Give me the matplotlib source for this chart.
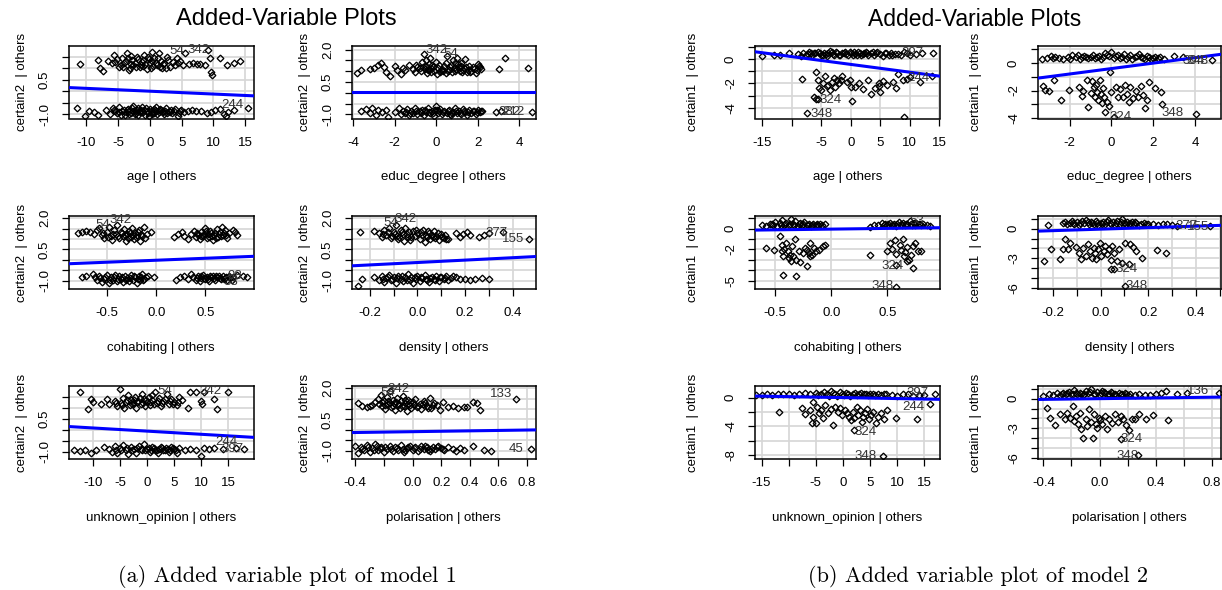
import numpy as np
import matplotlib
matplotlib.use('Agg')
import matplotlib.pyplot as plt

plt.rcParams['font.family'] = ['Liberation Sans', 'DejaVu Sans']

W, H = 1222, 590

# ---------------- model 1 : certain2 ----------------
m1_age_pts = [(-10.9,1.18),(-8.1,1.35),(-7.8,0.99),(-7.4,0.89),(-6.6,1.33),(-5.7,1.57),(-5.4,1.28),(-4.9,1.06),
    (-4.6,1.15),(-4.4,1.43),(-4.0,1.21),(-3.8,1.30),(-3.6,1.65),(-3.3,0.92),(-3.0,1.20),(-2.8,1.35),(-2.6,1.14),
    (-2.2,1.05),(-2.0,1.50),(-1.6,1.06),(-1.2,1.28),(-1.0,1.35),(-0.9,1.57),(-0.5,0.95),(-0.3,1.50),(0.0,1.21),
    (0.3,1.72),(0.5,1.10),(0.7,1.43),(0.9,1.25),(1.1,1.14),(1.5,1.65),(1.8,1.30),(1.9,0.99),(2.3,1.24),(2.5,1.00),
    (2.7,1.50),(3.2,1.06),(3.6,1.28),(4.2,1.43),(4.8,1.33),(5.2,1.14),(5.6,1.65),(6.1,1.18),(6.8,1.21),(7.4,1.17),
    (7.9,1.18),(8.6,1.14),(9.2,1.79),(9.5,1.43),(9.6,0.85),(9.7,0.70),(11.1,1.43),(12.1,1.14),(13.2,1.21),(14.1,1.33),
    (-5.9,1.25),(-5.1,1.40),(-4.2,1.05),(-3.4,1.45),(-2.4,1.25),(-1.8,1.40),(-1.4,1.15),(-0.7,1.20),(-0.1,1.40),
    (0.4,1.30),(1.3,1.45),(2.0,1.20),(2.9,1.35),(3.9,1.15),(4.5,1.25),(-3.1,1.02),(-1.1,1.08),(1.6,1.05),(0.2,1.00),
    (-2.9,1.55),
    (-11.5,-0.75),(-10.2,-1.10),(-9.5,-0.85),(-8.8,-0.90),(-8.2,-1.05),(-6.9,-0.80),(-6.3,-1.00),(-5.8,-0.75),
    (-5.5,-0.88),(-5.2,-0.95),(-4.8,-0.70),(-4.5,-1.02),(-4.3,-0.85),(-3.9,-1.05),(-3.7,-0.92),(-3.5,-0.78),
    (-3.2,-0.86),(-3.0,-0.95),(-2.8,-0.74),(-2.6,-0.65),(-2.4,-1.00),(-2.2,-0.88),(-2.0,-0.80),(-1.8,-1.02),
    (-1.6,-0.92),(-1.4,-0.80),(-1.2,-0.70),(-1.0,-0.92),(-0.8,-1.05),(-0.6,-0.72),(-0.4,-0.86),(-0.2,-1.10),
    (0.0,-0.78),(0.2,-0.85),(0.4,-1.00),(0.6,-0.95),(0.8,-0.82),(1.0,-0.70),(1.2,-0.98),(1.4,-0.90),(1.6,-0.76),
    (1.8,-0.80),(2.0,-0.92),(2.2,-1.00),(2.4,-0.85),(2.6,-0.75),(3.0,-0.88),(3.3,-0.80),(3.5,-0.95),(4.0,-0.78),
    (4.4,-1.08),(4.7,-0.86),(4.9,-0.82),(5.4,-0.90),(6.0,-0.85),(6.6,-0.80),(7.3,-0.88),(8.0,-0.85),(9.0,-0.95),
    (9.6,-0.90),(10.3,-0.82),(11.0,-0.78),(11.6,-1.00),(12.0,-1.10),(12.3,-0.90),(13.3,-0.80),(15.5,-0.75),
    (-5.6,-0.82),(-4.9,-0.90),(-4.1,-0.80),(-3.3,-1.00),(-2.7,-0.85),(-2.1,-0.95),(-1.5,-0.86),(-0.9,-0.80),
    (-0.3,-0.95),(0.3,-0.90),(0.9,-0.88),(1.5,-0.82),(2.1,-0.86),(2.7,-0.95),(3.2,-0.92),(3.8,-0.86),(4.6,-0.95),
    (-1.9,-0.72),(0.7,-0.76),(-3.6,-0.84)]
m1_age_ids = [("54", 4.2, 1.74), ("342", 7.7, 1.79), ("244", 13.0, -0.58)]

m1_educ_pts = [(-3.8,0.90),(-3.6,1.05),(-3.2,1.10),(-3.0,1.15),(-2.8,1.30),(-2.65,1.40),(-2.5,1.20),(-2.4,0.95),
    (-2.2,0.80),(-2.0,1.25),(-1.9,1.05),(-1.7,0.85),(-1.6,1.15),(-1.5,1.05),(-1.3,1.30),(-1.1,1.10),(-1.0,0.95),
    (-0.9,1.20),(-0.8,1.15),(-0.75,1.00),(-0.7,1.45),(-0.6,1.80),(-0.55,1.10),(-0.5,1.25),(-0.45,0.90),(-0.4,1.05),
    (-0.35,1.35),(-0.3,1.60),(-0.25,1.15),(-0.2,1.30),(-0.1,1.00),(0.0,1.45),(0.05,0.85),(0.1,1.15),(0.2,0.95),
    (0.25,1.05),(0.3,1.10),(0.4,1.25),(0.45,0.90),(0.5,1.70),(0.55,1.00),(0.6,1.05),(0.7,1.30),(0.75,0.95),
    (0.8,1.50),(0.85,1.15),(0.9,1.00),(1.0,1.60),(1.05,1.35),(1.1,1.20),(1.2,1.40),(1.25,0.95),(1.3,1.05),
    (1.4,1.55),(1.45,1.20),(1.5,0.95),(1.6,1.25),(1.7,1.00),(1.8,1.10),(1.9,0.90),(2.0,1.35),(2.05,1.25),
    (2.1,1.20),(3.0,1.10),(3.3,1.60),(4.4,1.15),
    (-0.95,1.30),(-0.65,1.20),(-0.35,1.05),(-0.15,1.20),(0.15,1.30),(0.35,1.00),(0.65,1.20),(0.95,1.10),
    (1.15,1.00),(1.35,1.15),(1.55,1.05),(1.75,1.20),(1.95,1.05),(0.45,1.40),(-0.5,1.50),(0.9,1.40),(1.2,1.25),
    (-0.25,0.95),(1.65,0.98),(2.15,1.10),
    (-3.6,-0.85),(-3.4,-0.75),(-3.2,-0.95),(-3.1,-0.70),(-2.9,-1.05),(-2.8,-0.80),(-2.6,-0.90),(-2.4,-0.78),
    (-2.3,-1.10),(-2.0,-0.88),(-1.8,-0.72),(-1.7,-1.00),(-1.6,-0.85),(-1.5,-0.95),(-1.4,-0.75),(-1.3,-1.05),
    (-1.2,-0.82),(-1.1,-0.92),(-1.0,-0.70),(-0.9,-0.98),(-0.8,-0.85),(-0.7,-0.78),(-0.6,-1.02),(-0.5,-0.90),
    (-0.4,-0.72),(-0.3,-0.95),(-0.2,-0.85),(-0.1,-1.08),(0.0,-0.60),(0.05,-0.80),(0.1,-0.92),(0.2,-0.75),
    (0.3,-1.00),(0.4,-0.85),(0.5,-0.95),(0.6,-0.78),(0.7,-1.05),(0.8,-0.88),(0.9,-0.72),(1.0,-0.95),(1.1,-0.82),
    (1.2,-1.00),(1.3,-0.76),(1.4,-0.90),(1.5,-1.05),(1.6,-0.80),(1.7,-0.92),(1.8,-0.85),(1.9,-1.00),(2.0,-0.78),
    (2.1,-0.90),(2.2,-0.85),(2.9,-0.88),(3.1,-0.85),(4.6,-0.88),
    (-1.45,-0.88),(-1.25,-0.92),(-0.95,-0.82),(-0.75,-0.95),(-0.55,-0.80),(-0.35,-0.88),(-0.15,-0.95),
    (0.15,-0.85),(0.35,-0.90),(0.55,-0.82),(0.75,-0.92),(0.95,-0.86),(1.15,-0.95),(1.35,-0.84),(1.55,-0.90),
    (1.75,-0.82),(1.95,-0.90),(2.15,-0.82),(-0.05,-0.78),(0.65,-1.00)]
m1_educ_ids = [("342", 0.0, 1.98), ("54", 0.7, 1.78), ("382", 3.55, -0.88), ("212", 3.7, -0.88)]

m1_cohab_pts = [(-0.80,1.30),(-0.76,1.35),(-0.72,1.40),(-0.68,1.35),(-0.64,1.25),(-0.60,1.45),(-0.58,1.55),
    (-0.55,1.20),(-0.53,1.05),(-0.50,1.35),(-0.48,1.60),(-0.46,1.15),(-0.45,0.95),(-0.43,1.45),(-0.41,1.25),
    (-0.40,1.70),(-0.38,1.05),(-0.36,1.35),(-0.34,1.15),(-0.33,1.50),(-0.31,0.90),(-0.30,1.25),(-0.28,1.40),
    (-0.26,1.10),(-0.25,1.55),(-0.23,1.00),(-0.22,1.30),(-0.20,1.20),(-0.18,1.45),(-0.17,0.90),(-0.15,1.15),
    (-0.13,1.60),(-0.12,1.05),(-0.10,1.25),(-0.05,1.35),
    (-0.54,1.30),(-0.49,1.10),(-0.44,1.25),(-0.39,1.15),(-0.35,1.30),(-0.32,1.20),(-0.29,1.05),(-0.27,1.30),
    (-0.24,1.20),(-0.21,1.10),(-0.19,1.35),(-0.16,1.25),
    (0.18,1.10),(0.22,1.25),(0.26,1.35),(0.28,1.15),(0.32,1.00),(0.35,1.25),(0.38,1.40),(0.40,1.10),(0.42,1.20),
    (0.44,1.00),(0.46,1.35),(0.48,1.15),(0.50,1.55),(0.52,1.05),(0.53,1.25),(0.55,1.40),(0.57,1.15),(0.58,0.95),
    (0.60,1.30),(0.62,1.50),(0.63,1.10),(0.65,1.35),(0.67,1.60),(0.68,1.20),(0.70,1.45),(0.72,1.05),(0.74,1.30),
    (0.78,1.45),(0.80,1.35),(0.82,1.20),
    (0.41,1.30),(0.45,1.15),(0.49,1.25),(0.51,1.40),(0.54,1.10),(0.56,1.30),(0.59,1.20),(0.61,1.05),(0.64,1.25),
    (0.66,1.15),(0.69,1.30),(0.71,1.20),
    (-0.76,-0.82),(-0.72,-0.80),(-0.65,-0.70),(-0.62,-0.85),(-0.60,-0.95),(-0.58,-0.78),(-0.55,-1.05),
    (-0.53,-0.90),(-0.50,-0.75),(-0.48,-1.10),(-0.46,-0.85),(-0.44,-0.95),(-0.42,-0.72),(-0.40,-1.00),
    (-0.38,-0.80),(-0.36,-0.92),(-0.34,-1.08),(-0.32,-0.78),(-0.30,-0.88),(-0.28,-1.00),(-0.26,-0.75),
    (-0.24,-0.95),(-0.22,-0.85),(-0.20,-1.12),(-0.18,-0.80),(-0.17,-0.95),(-0.15,-0.70),(-0.13,-0.90),
    (-0.11,-0.82),(-0.08,-0.78),(-0.02,-0.85),
    (-0.57,-0.88),(-0.52,-0.82),(-0.47,-0.95),(-0.43,-0.85),(-0.39,-0.90),(-0.35,-0.82),(-0.31,-0.95),
    (-0.27,-0.86),(-0.23,-0.80),(-0.19,-0.90),(-0.16,-0.85),(-0.14,-0.97),
    (0.20,-0.95),(0.24,-0.85),(0.28,-0.80),(0.32,-0.92),(0.35,-0.70),(0.37,-0.85),(0.40,-0.95),(0.42,-0.80),
    (0.44,-1.02),(0.46,-0.88),(0.48,-0.75),(0.50,-0.92),(0.52,-0.82),(0.54,-1.00),(0.56,-0.85),(0.58,-0.78),
    (0.60,-0.95),(0.62,-0.85),(0.64,-0.80),(0.66,-0.92),(0.68,-0.78),(0.70,-0.88),(0.72,-0.95),(0.74,-0.80),
    (0.78,-0.85),(0.82,-0.75),(0.88,-0.80),(0.92,-0.82),
    (0.41,-0.88),(0.45,-0.80),(0.49,-0.86),(0.53,-0.92),(0.55,-0.78),(0.59,-0.88),(0.61,-0.80),(0.65,-0.86),
    (0.69,-0.92),(0.71,-0.82),(0.75,-0.88),(0.77,-0.95)]
m1_cohab_ids = [("54", -0.55, 1.70), ("342", -0.36, 1.92), ("98", 0.80, -0.76), ("33", 0.76, -1.05)]

m1_dens_pts = [(-0.24,1.35),(-0.18,1.40),(-0.16,1.30),(-0.15,1.10),(-0.14,1.45),(-0.13,1.20),(-0.12,1.55),
    (-0.11,1.05),(-0.10,1.35),(-0.09,1.70),(-0.085,1.15),(-0.08,1.00),(-0.07,1.45),(-0.06,1.25),(-0.055,0.90),
    (-0.05,1.55),(-0.04,1.10),(-0.035,1.35),(-0.03,0.95),(-0.02,1.40),(-0.01,1.15),(0.0,1.30),(0.01,1.00),
    (0.02,1.20),(0.025,1.45),(0.03,0.85),(0.04,1.10),(0.05,1.30),(0.055,1.00),(0.06,1.20),(0.07,1.40),
    (0.075,1.05),(0.08,1.15),(0.09,0.95),(0.10,1.25),(0.11,1.05),(0.12,1.00),(0.13,1.00),(0.16,1.30),
    (0.18,1.10),(0.19,1.25),(0.21,1.35),(0.22,1.20),(0.26,1.10),(0.28,1.20),(0.30,1.30),(0.36,1.35),(0.47,1.00),
    (-0.145,1.25),(-0.125,1.35),(-0.105,1.15),(-0.095,1.25),(-0.075,1.10),(-0.065,1.35),(-0.045,1.25),
    (-0.025,1.10),(-0.005,1.45),(0.015,1.35),(0.035,1.20),(0.045,1.40),(0.065,1.10),(0.085,1.30),(0.105,1.10),
    (0.115,1.20),
    (-0.25,-1.25),(-0.23,-0.90),(-0.18,-0.85),(-0.16,-0.95),(-0.15,-0.80),(-0.14,-1.05),(-0.13,-0.88),
    (-0.12,-0.75),(-0.11,-0.98),(-0.10,-0.85),(-0.09,-1.10),(-0.08,-0.78),(-0.07,-0.92),(-0.06,-1.02),
    (-0.05,-0.82),(-0.04,-0.70),(-0.03,-0.95),(-0.02,-1.12),(-0.01,-0.85),(0.0,-0.78),(0.01,-1.00),(0.02,-0.88),
    (0.03,-0.75),(0.04,-0.95),(0.05,-1.05),(0.06,-0.82),(0.07,-0.90),(0.08,-0.78),(0.09,-1.00),(0.10,-0.85),
    (0.11,-0.92),(0.12,-0.80),(0.14,-0.88),(0.16,-0.85),(0.18,-0.90),(0.20,-0.92),(0.22,-0.95),(0.24,-0.92),
    (0.27,-0.88),(0.30,-0.92),
    (-0.145,-0.92),(-0.125,-0.82),(-0.105,-0.92),(-0.085,-0.86),(-0.065,-0.80),(-0.045,-0.95),(-0.025,-0.82),
    (-0.005,-0.92),(0.015,-0.84),(0.035,-0.92),(0.055,-0.86),(0.075,-0.95),(0.095,-0.82),(0.115,-0.88),
    (0.13,-0.95),(0.15,-0.80)]
m1_dens_ids = [("54", -0.11, 1.75), ("342", -0.05, 1.95), ("377", 0.33, 1.30), ("155", 0.40, 1.00)]

m1_unkn_pts = [(-12.5,1.70),(-11.0,0.95),(-10.5,1.40),(-10.0,1.25),(-8.5,1.15),(-7.5,1.40),(-7.0,1.15),(-6.0,1.30),
    (-5.5,1.05),(-5.0,1.85),(-4.8,1.20),(-4.5,1.45),(-4.2,1.00),(-4.0,1.25),(-3.5,1.55),(-3.2,1.10),(-3.0,1.35),
    (-2.6,1.20),(-2.2,1.50),(-2.0,1.00),(-1.6,1.30),(-1.2,1.15),(-1.0,1.60),(-0.6,1.40),(-0.4,1.05),(0.0,1.25),
    (0.3,1.50),(0.6,1.10),(1.0,1.35),(1.4,1.70),(1.8,1.20),(2.2,1.45),(2.6,1.05),(3.0,1.30),(3.6,1.60),(4.0,1.15),
    (4.5,1.40),(5.0,1.25),(5.5,1.10),(6.0,1.50),(6.5,1.35),(7.5,1.00),(8.0,1.70),(9.0,1.70),(10.0,1.30),
    (10.2,1.15),(10.5,1.70),(12.5,1.40),(13.0,0.95),(15.0,1.70),
    (-5.8,1.20),(-4.6,1.10),(-3.8,1.35),(-2.8,1.15),(-1.9,1.25),(-1.3,1.45),(-0.8,1.20),(-0.2,1.35),(0.5,1.25),
    (1.2,1.15),(2.0,1.30),(2.8,1.20),(3.4,1.40),(4.2,1.30),(4.8,1.15),(5.8,1.25),(-2.4,1.35),(0.9,1.55),
    (-13.5,-0.95),(-12.5,-0.98),(-11.5,-0.95),(-10.5,-1.05),(-9.5,-0.92),(-8.0,-0.80),(-7.0,-0.90),(-6.5,-1.00),
    (-6.0,-0.75),(-5.5,-1.05),(-5.0,-0.85),(-4.5,-0.70),(-4.0,-0.95),(-3.5,-1.10),(-3.0,-0.80),(-2.5,-0.90),
    (-2.0,-1.05),(-1.5,-0.75),(-1.0,-0.95),(-0.5,-0.65),(0.0,-0.88),(0.5,-1.00),(1.0,-0.80),(1.5,-0.92),
    (2.0,-1.08),(2.5,-0.78),(3.0,-0.95),(3.5,-0.85),(4.0,-1.02),(4.5,-0.80),(5.0,-0.90),(5.5,-1.05),(6.0,-0.85),
    (7.0,-0.95),(8.0,-0.88),(9.0,-0.92),(10.0,-1.20),(10.5,-0.85),(11.5,-0.90),(12.5,-0.85),(14.0,-0.90),
    (16.5,-0.85),(18.0,-0.88),
    (-5.8,-0.92),(-4.8,-0.95),(-3.8,-0.85),(-2.8,-0.95),(-1.8,-0.85),(-1.2,-0.90),(-0.3,-0.92),(0.3,-0.82),
    (0.8,-0.92),(1.3,-0.85),(1.8,-0.95),(2.3,-0.88),(2.8,-0.82),(3.3,-0.92),(3.8,-0.88),(4.3,-0.95),(4.8,-0.85),
    (5.3,-0.92)]
m1_unkn_ids = [("54", 3.2, 1.75), ("342", 11.7, 1.75), ("244", 14.7, -0.58), ("397", 15.8, -0.90)]

m1_pol_pts = [(-0.38,1.30),(-0.35,1.15),(-0.32,1.10),(-0.30,1.15),(-0.28,1.20),(-0.26,1.35),(-0.24,1.50),
    (-0.22,1.70),(-0.21,1.15),(-0.20,1.40),(-0.19,1.00),(-0.18,1.60),(-0.17,1.25),(-0.16,1.85),(-0.15,1.10),
    (-0.14,1.45),(-0.13,1.30),(-0.12,0.95),(-0.11,1.55),(-0.10,1.20),(-0.09,1.05),(-0.08,1.40),(-0.07,1.65),
    (-0.06,1.15),(-0.05,1.30),(-0.04,0.90),(-0.03,1.45),(-0.02,1.20),(-0.01,1.05),(0.0,1.35),(0.02,1.50),
    (0.03,1.10),(0.05,1.25),(0.06,1.00),(0.08,1.40),(0.10,1.15),(0.12,1.55),(0.13,1.05),(0.15,1.30),(0.17,1.20),
    (0.19,0.95),(0.21,1.35),(0.25,1.10),(0.28,1.15),(0.32,1.05),(0.36,1.10),(0.38,1.10),(0.42,1.35),(0.45,1.30),
    (0.47,0.95),(0.72,1.50),
    (-0.235,1.25),(-0.215,1.35),(-0.195,1.20),(-0.175,1.40),(-0.155,1.30),(-0.135,1.15),(-0.115,1.35),
    (-0.095,1.25),(-0.075,1.15),(-0.055,1.45),(-0.035,1.25),(-0.015,1.35),(0.01,1.20),(0.04,1.15),(0.07,1.25),
    (0.09,1.30),(0.11,1.05),(0.14,1.20),
    (-0.40,-0.80),(-0.38,-1.10),(-0.36,-0.85),(-0.34,-0.95),(-0.32,-0.75),(-0.30,-1.05),(-0.28,-0.88),
    (-0.26,-0.70),(-0.24,-0.98),(-0.22,-0.82),(-0.20,-1.05),(-0.18,-0.90),(-0.16,-0.78),(-0.14,-1.00),
    (-0.12,-0.85),(-0.10,-0.95),(-0.08,-0.72),(-0.06,-1.08),(-0.04,-0.88),(-0.02,-0.80),(0.0,-0.95),(0.02,-0.85),
    (0.04,-1.02),(0.06,-0.78),(0.08,-0.92),(0.10,-0.85),(0.12,-1.00),(0.14,-0.82),(0.16,-0.90),(0.18,-0.78),
    (0.20,-0.88),(0.22,-0.95),(0.25,-0.85),(0.28,-0.92),(0.30,-1.00),(0.33,-0.88),(0.36,-0.95),(0.42,-0.80),
    (0.50,-0.95),(0.55,-1.00),(0.83,-0.90),
    (-0.35,-0.92),(-0.31,-0.85),(-0.27,-0.95),(-0.23,-0.88),(-0.19,-0.82),(-0.15,-0.92),(-0.11,-0.86),
    (-0.07,-0.92),(-0.03,-0.85),(0.01,-0.88),(0.05,-0.92),(0.09,-0.80),(0.13,-0.90),(0.17,-0.85),(0.21,-0.92),
    (-0.25,-0.80),(-0.05,-0.98),(0.11,-0.95)]
m1_pol_ids = [("54", -0.17, 1.75), ("342", -0.10, 1.95), ("133", 0.62, 1.72), ("45", 0.72, -0.92)]

# fitted lines (intercept, slope)
m1_fits = [(0.0, -0.0124), (0.05, 0.0), (-0.02, 0.19), (-0.13, 0.58), (-0.07, -0.0143), (-0.09, 0.10)]

# ---------------- model 2 : certain1 ----------------
m2_age_pts = [(-15.0,0.27),(-13.0,0.35),(-12.0,0.30),(-10.5,0.45),(-9.0,0.40),(-8.5,0.25),(-8.0,0.50),(-7.5,0.35),
    (-7.0,0.55),(-6.5,0.30),(-6.2,0.50),(-6.0,0.45),(-5.5,0.60),(-5.0,0.35),(-4.5,0.50),(-4.2,0.40),(-4.0,0.25),
    (-3.5,0.65),(-3.2,0.55),(-3.0,0.40),(-2.8,0.30),(-2.5,0.55),(-2.0,0.30),(-1.5,0.50),(-1.2,0.45),(-1.0,0.60),
    (-0.5,0.35),(-0.2,0.60),(0.0,0.45),(0.5,0.55),(0.8,0.40),(1.0,0.30),(1.5,0.50),(1.8,0.30),(2.0,0.40),
    (2.2,0.50),(2.5,0.60),(3.0,0.35),(3.5,0.45),(3.8,0.55),(4.0,0.30),(4.5,0.55),(5.0,0.40),(5.5,0.25),(6.0,0.45),
    (6.5,0.35),(7.0,0.30),(7.5,0.40),(8.5,0.35),(9.0,0.55),(9.5,0.45),(10.0,0.30),(11.0,0.40),(12.0,0.50),
    (14.0,0.45),(-5.2,0.45),(-4.7,0.30),(-3.8,0.50),(-2.3,0.45),(-1.8,0.35),(-0.8,0.40),(0.3,0.35),(1.2,0.55),
    (2.8,0.45),(4.2,0.45),(5.8,0.50),(6.8,0.45),(8.0,0.40),(-7.2,0.40),(-6.8,0.45),
    (-8.3,-1.68),(-5.8,-1.03),(-5.6,-1.76),(-5.3,-2.35),(-5.1,-2.57),(-4.7,-1.97),(-4.4,-1.43),(-4.1,-2.24),
    (-3.8,-2.16),(-3.5,-2.51),(-3.2,-1.89),(-2.9,-1.54),(-2.6,-2.30),(-2.3,-1.70),(-2.0,-2.00),(-1.7,-1.76),
    (-1.4,-1.43),(-0.7,-1.89),(-0.2,-1.70),(0.0,-2.30),(0.2,-3.40),(0.8,-2.30),(1.4,-2.00),(2.0,-2.43),
    (2.9,-1.76),(3.5,-2.90),(4.1,-2.35),(4.7,-1.97),(4.8,-2.24),(5.0,-2.70),(5.4,-1.84),(6.2,-2.16),(7.1,-1.89),
    (7.7,-2.35),(8.0,-1.27),(8.9,-1.76),(9.5,-1.62),(10.1,-1.49),(11.8,-1.89),(13.8,-1.43),(9.0,-4.73),
    (-6.2,-3.10),(-5.9,-3.24),(-5.6,-3.30),(-7.4,-4.40)]
m2_age_ids = [("324", -3.4, -3.35), ("348", -5.0, -4.50), ("244", 11.4, -1.55), ("397", 10.5, 0.45)]

m2_educ_pts = [(-3.3,0.30),(-3.1,0.35),(-2.9,0.50),(-2.7,0.40),(-2.5,0.35),(-2.3,0.30),(-2.1,0.45),(-2.0,0.25),
    (-1.9,0.55),(-1.7,0.40),(-1.6,0.55),(-1.5,0.30),(-1.3,0.50),(-1.1,0.35),(-0.9,0.60),(-0.7,0.45),(-0.6,0.50),
    (-0.5,0.30),(-0.3,0.70),(-0.1,0.50),(0.0,0.80),(0.1,0.35),(0.3,0.60),(0.5,0.45),(0.6,0.65),(0.7,0.30),
    (0.9,0.55),(1.0,0.30),(1.1,0.40),(1.3,0.65),(1.5,0.35),(1.7,0.50),(1.9,0.30),(2.0,0.35),(2.1,0.45),(2.3,0.40),
    (2.5,0.30),(3.0,0.50),(3.4,0.40),(4.8,0.20),(-1.0,0.45),(-0.8,0.35),(-0.4,0.40),(-0.2,0.55),(0.2,0.50),
    (0.4,0.35),(0.8,0.45),(1.2,0.50),(1.4,0.40),(1.6,0.30),(1.8,0.45),(2.2,0.35),(-1.2,0.40),(-1.4,0.45),
    (-2.8,0.35),
    (-3.27,-1.66),(-3.18,-1.95),(-3.0,-2.0),(-2.75,-1.22),(-2.43,-2.68),(-2.05,-1.95),(-1.53,-1.76),(-1.36,-2.0),
    (-1.4,-2.39),(-1.18,-1.22),(-1.1,-3.17),(-1.0,-2.15),(-0.92,-1.34),(-0.83,-1.76),(-0.8,-2.44),(-0.75,-1.59),
    (-0.7,-2.07),(-0.63,-2.68),(-0.57,-1.22),(-0.52,-2.24),(-0.45,-2.93),(-0.4,-1.83),(-0.35,-2.49),(-0.31,-3.54),
    (-0.23,-2.8),(-0.14,-3.12),(-0.05,-0.68),(0.0,-2.07),(0.12,-3.9),(0.21,-1.76),(0.3,-2.49),(0.42,-1.9),
    (0.56,-2.44),(0.64,-1.59),(0.73,-2.24),(0.82,-2.8),(0.9,-1.76),(1.04,-2.56),(1.17,-2.0),(1.25,-2.44),
    (1.39,-1.66),(1.51,-2.32),(1.6,-3.29),(1.69,-2.68),(1.81,-1.41),(2.09,-1.83),(2.38,-2.07),(2.43,-2.98),
    (4.03,-3.66)]
m2_educ_ids = [("324", 0.45, -3.92), ("348", 2.9, -3.6), ("304", 3.9, 0.10), ("348", 4.1, 0.10)]

m2_cohab_pts = [(-0.62,0.35),(-0.58,0.30),(-0.55,0.50),(-0.52,0.40),(-0.50,0.65),(-0.48,0.30),(-0.46,0.55),
    (-0.44,0.80),(-0.42,0.40),(-0.40,0.60),(-0.38,0.35),(-0.36,0.90),(-0.34,0.50),(-0.32,0.70),(-0.30,0.30),
    (-0.28,0.55),(-0.26,0.40),(-0.24,0.65),(-0.22,0.35),(-0.20,0.50),(-0.18,0.30),(-0.16,0.45),(-0.14,0.40),
    (-0.12,0.35),(-0.10,0.50),(-0.08,0.40),(-0.06,0.45),
    (-0.53,0.45),(-0.45,0.40),(-0.41,0.50),(-0.37,0.45),(-0.33,0.35),(-0.29,0.45),(-0.25,0.50),(-0.21,0.40),
    (-0.17,0.40),(-0.13,0.45),
    (0.35,0.20),(0.38,0.35),(0.42,0.40),(0.45,0.55),(0.48,0.45),(0.50,0.35),(0.52,0.60),(0.54,0.40),(0.56,0.50),
    (0.58,0.30),(0.60,0.65),(0.62,0.45),(0.64,0.55),(0.66,0.35),(0.68,0.50),(0.70,0.70),(0.72,0.40),(0.74,0.55),
    (0.76,0.60),(0.78,0.45),(0.80,0.40),(0.82,0.50),(0.85,0.35),(0.88,0.30),
    (0.47,0.35),(0.51,0.45),(0.55,0.40),(0.59,0.45),(0.63,0.35),(0.67,0.45),(0.71,0.50),(0.75,0.40),(0.79,0.50),
    (-0.58,-1.85),(-0.51,-2.01),(-0.46,-0.71),(-0.44,-1.53),(-0.44,-2.18),(-0.43,-2.66),(-0.42,-1.95),
    (-0.40,-1.36),(-0.39,-2.18),(-0.38,-2.82),(-0.37,-2.50),(-0.36,-3.15),(-0.35,-1.69),(-0.34,-2.66),
    (-0.32,-0.97),(-0.31,-2.99),(-0.29,-2.18),(-0.28,-3.25),(-0.25,-2.34),(-0.23,-1.85),(-0.22,-3.57),
    (-0.22,-2.01),(-0.20,-2.34),(-0.19,-1.36),(-0.19,-2.66),(-0.17,-2.50),(-0.15,-1.85),(-0.14,-2.18),
    (-0.11,-2.01),(-0.07,-1.69),(-0.06,-1.53),(-0.43,-4.45),(-0.31,-4.55),
    (0.35,-2.50),(0.50,-2.18),(0.52,-1.36),(0.54,-1.95),(0.57,-1.04),(0.58,-2.40),(0.61,-1.53),(0.62,-2.01),
    (0.64,-0.97),(0.65,-2.66),(0.66,-2.27),(0.68,-1.75),(0.68,-3.15),(0.69,-2.99),(0.71,-2.50),(0.73,-1.69),
    (0.73,-3.80),(0.75,-1.36),(0.77,-2.18),(0.80,-2.18),(0.58,-5.58),(0.58,-3.47)]
m2_cohab_ids = [("324", 0.55, -3.62), ("348", 0.46, -5.52), ("53", 0.76, 0.72)]

m2_dens_pts = [(-0.22,0.40),(-0.16,0.55),(-0.15,0.70),(-0.14,0.45),(-0.13,0.60),(-0.12,0.80),(-0.11,0.50),
    (-0.10,0.65),(-0.09,0.40),(-0.08,0.75),(-0.07,0.55),(-0.06,0.90),(-0.05,0.45),(-0.04,0.65),(-0.03,0.50),
    (-0.02,0.80),(-0.01,0.40),(0.0,0.60),(0.01,0.70),(0.02,0.45),(0.03,0.85),(0.04,0.55),(0.05,0.65),(0.06,0.40),
    (0.07,0.75),(0.08,0.50),(0.09,1.00),(0.10,0.55),(0.11,0.65),(0.12,0.45),(0.13,0.70),(0.14,0.50),(0.15,0.60),
    (0.16,0.40),(0.18,0.55),(0.20,0.45),(0.22,0.50),(0.24,0.40),(0.26,0.45),(0.28,0.50),(0.30,0.35),(0.32,0.30),
    (0.46,0.30),(-0.115,0.60),(-0.085,0.55),(-0.055,0.70),(-0.035,0.55),(-0.015,0.60),(0.005,0.50),(0.025,0.65),
    (0.045,0.45),(0.065,0.60),(0.085,0.65),(0.105,0.45),(0.125,0.55),(0.145,0.65),(0.17,0.50),(0.19,0.45),
    (-0.236,-3.29),(-0.21,-2.10),(-0.17,-3.12),(-0.157,-2.10),(-0.15,-1.02),(-0.137,-2.03),(-0.127,-1.42),
    (-0.104,-1.83),(-0.09,-2.44),(-0.082,-3.12),(-0.075,-1.93),(-0.063,-2.78),(-0.052,-1.59),(-0.045,-2.27),
    (-0.037,-2.95),(-0.03,-1.93),(-0.022,-2.51),(-0.018,-3.12),(-0.012,-2.10),(-0.003,-1.42),(0.003,-2.78),
    (0.012,-2.27),(0.018,-1.76),(0.027,-2.61),(0.033,-2.03),(0.042,-3.19),(0.048,-1.76),(0.057,-2.44),
    (0.067,-3.29),(0.075,-2.10),(0.09,-3.53),(0.104,-1.42),(0.122,-1.59),(0.134,-1.83),(0.149,-2.27),
    (0.172,-2.95),(0.236,-2.17),(0.276,-2.51),(0.045,-4.14),(0.057,-4.07),(0.119,-3.63),(0.104,-5.83)]
m2_dens_ids = [("324", 0.11, -4.12), ("348", 0.15, -5.85), ("377", 0.36, 0.25), ("155", 0.41, 0.15)]

m2_unkn_pts = [(-16.0,0.35),(-15.0,0.40),(-14.0,0.45),(-13.0,0.40),(-12.0,0.50),(-11.0,0.45),(-10.0,0.55),
    (-9.0,0.40),(-8.0,0.50),(-7.0,0.60),(-6.0,0.45),(-5.0,0.65),(-4.5,0.40),(-4.0,0.55),(-3.5,0.80),(-3.0,0.50),
    (-2.6,0.30),(-2.2,0.95),(-1.8,0.60),(-1.4,0.45),(-1.0,0.25),(-0.6,0.75),(-0.2,0.55),(0.2,0.40),(0.6,0.65),
    (1.0,0.50),(1.4,0.30),(1.8,0.45),(2.2,0.60),(2.6,0.40),(3.0,0.55),(3.4,0.65),(3.8,0.45),(4.2,0.50),(4.6,0.35),
    (5.0,0.45),(5.5,0.50),(6.0,0.40),(6.5,0.45),(7.0,0.35),(7.5,0.50),(8.0,0.45),(9.0,0.40),(10.0,0.30),
    (11.0,0.45),(12.0,0.50),(13.0,0.30),(14.0,0.40),(15.0,0.35),(17.0,0.55),
    (-11.7,-1.95),(-7.55,-1.49),(-6.9,-2.28),(-6.1,-1.72),(-5.77,-3.49),(-5.44,-2.74),(-4.91,-3.49),
    (-5.57,-0.56),(-4.78,-1.26),(-4.45,-2.19),(-3.99,-1.72),(-3.6,-2.88),(-3.33,-1.02),(-2.8,-2.19),
    (-2.28,-1.63),(-1.82,-3.81),(-1.49,-1.26),(-0.96,-1.95),(-0.5,-1.49),(-0.17,-2.42),(0.36,-1.72),
    (0.82,-2.09),(1.15,-2.65),(1.48,-3.12),(1.81,-1.95),(2.14,-2.88),(2.6,-1.26),(2.8,-2.42),(3.13,-1.72),
    (3.46,-3.35),(3.79,-2.65),(4.12,-2.19),(4.45,-1.63),(4.78,-3.02),(5.11,-2.42),(5.63,-1.95),(6.09,-3.58),
    (6.56,-2.65),(7.08,-2.19),(7.61,-3.02),(8.07,-1.72),(9.72,-2.88),(13.67,-3.02),(15.98,-0.88),
    (2.14,-4.51),(7.41,-8.14)]
m2_unkn_ids = [("324", 4.25, -4.74), ("348", 4.25, -8.10), ("397", 13.7, 0.60), ("244", 13.0, -1.26)]

m2_pol_pts = [(-0.40,0.30),(-0.36,0.45),(-0.33,0.35),(-0.30,0.55),(-0.28,0.40),(-0.26,0.60),(-0.24,0.45),
    (-0.22,0.70),(-0.20,0.50),(-0.18,0.85),(-0.16,0.45),(-0.14,0.60),(-0.12,0.40),(-0.10,0.75),(-0.08,0.55),
    (-0.06,0.95),(-0.04,0.50),(-0.02,0.65),(0.0,0.40),(0.02,0.80),(0.04,0.55),(0.06,0.45),(0.08,0.70),(0.10,0.50),
    (0.12,0.40),(0.14,0.60),(0.16,0.45),(0.18,0.55),(0.20,0.35),(0.22,0.50),(0.25,0.40),(0.28,0.45),(0.32,0.35),
    (0.36,0.40),(0.40,0.45),(0.44,0.60),(0.47,0.75),(0.55,0.50),(0.62,0.60),(0.85,0.55),
    (-0.27,0.45),(-0.23,0.55),(-0.19,0.45),(-0.17,0.60),(-0.13,0.50),(-0.11,0.45),(-0.07,0.65),(-0.03,0.45),
    (0.01,0.55),(0.03,0.70),(0.07,0.50),(0.09,0.60),(0.11,0.45),(0.15,0.50),(0.19,0.45),
    (-0.374,-0.92),(-0.35,-1.93),(-0.32,-2.71),(-0.28,-1.59),(-0.245,-2.10),(-0.23,-1.42),(-0.21,-1.93),
    (-0.19,-0.75),(-0.18,-2.27),(-0.17,-1.76),(-0.155,-2.61),(-0.14,-1.42),(-0.13,-3.12),(-0.116,-3.97),
    (-0.10,-2.03),(-0.09,-2.78),(-0.077,-1.08),(-0.064,-2.37),(-0.05,-3.97),(-0.04,-1.59),(-0.026,-2.61),
    (-0.02,-2.95),(-0.005,-1.93),(0.005,-2.17),(0.02,-2.61),(0.04,-1.76),(0.05,-3.12),(0.07,-2.03),(0.09,-2.51),
    (0.11,-1.59),(0.13,-2.37),(0.15,-1.76),(0.17,-2.10),(0.185,-2.71),(0.21,-3.19),(0.23,-2.03),(0.25,-2.10),
    (0.28,-1.59),(0.33,-2.10),(0.38,-1.69),(0.49,-2.20),(0.15,-4.14),(0.27,-5.76)]
m2_pol_ids = [("324", 0.225, -4.14), ("348", 0.20, -5.83), ("136", 0.70, 0.75)]

m2_fits = [(-0.45, -0.0636), (-0.41, 0.197), (-0.035, 0.14), (-0.04, 0.767), (0.01, -0.0135), (0.01, 0.186)]

x_names = ["age", "educ_degree", "cohabiting", "density", "unknown_opinion", "polarisation"]

# axis limits / ticks
m1_xlims = [(-12.7, 16.3), (-4.05, 4.79), (-0.89, 0.99), (-0.274, 0.496), (-14.5, 19.75), (-0.423, 0.86)]
m1_ylims = [(-1.19, 1.97), (-1.19, 2.17), (-1.42, 2.11), (-1.42, 2.11), (-1.35, 1.98), (-1.42, 2.11)]
m1_xticks = [[-10, -5, 0, 5, 10, 15], [-4, -2, 0, 2, 4], [-0.5, 0.0, 0.5],
             [-0.2, -0.1, 0.0, 0.1, 0.2, 0.3, 0.4], [-10, -5, 0, 5, 10, 15],
             [-0.4, -0.2, 0.0, 0.2, 0.4, 0.6, 0.8]]
m1_xlabels = [["-10", "-5", "0", "5", "10", "15"], ["-4", "-2", "0", "2", "4"], ["-0.5", "0.0", "0.5"],
              ["-0.2", "", "0.0", "", "0.2", "", "0.4"], ["-10", "-5", "0", "5", "10", "15"],
              ["-0.4", "", "0.0", "0.2", "0.4", "0.6", "0.8"]]
m1_yticks = [-1.0, -0.5, 0.0, 0.5, 1.0, 1.5, 2.0]
m1_ylabels = ["-1.0", "", "", "0.5", "", "", "2.0"]

m2_xlims = [(-16.2, 15.1), (-3.51, 5.23), (-0.68, 0.97), (-0.263, 0.505), (-16.2, 17.9), (-0.438, 0.864)]
m2_ylims = [(-4.86, 1.05), (-4.02, 1.22), (-5.84, 1.23), (-6.17, 1.30), (-8.6, 1.63), (-6.17, 1.30)]
m2_xticks = [[-15, -10, -5, 0, 5, 10, 15], [-2, 0, 2, 4], [-0.5, 0.0, 0.5],
             [-0.2, -0.1, 0.0, 0.1, 0.2, 0.3, 0.4, 0.5], [-15, -10, -5, 0, 5, 10, 15],
             [-0.4, -0.2, 0.0, 0.2, 0.4, 0.6, 0.8]]
m2_xlabels = [["-15", "", "-5", "0", "5", "10", "15"], ["-2", "0", "2", "4"], ["-0.5", "0.0", "0.5"],
              ["-0.2", "", "0.0", "", "0.2", "", "0.4", ""], ["-15", "", "-5", "0", "5", "10", "15"],
              ["-0.4", "", "0.0", "", "0.4", "", "0.8"]]
m2_yticks = [[-4, -3, -2, -1, 0, 1], [-4, -3, -2, -1, 0, 1], [-5, -4, -3, -2, -1, 0, 1],
             [-6, -5, -4, -3, -2, -1, 0, 1], [-8, -6, -4, -2, 0], [-6, -5, -4, -3, -2, -1, 0, 1]]
m2_ylabels = [["-4", "", "-2", "", "0", ""], ["-4", "", "-2", "", "0", ""], ["-5", "", "", "-2", "", "0", ""],
              ["-6", "", "", "-3", "", "", "0", ""], ["-8", "", "-4", "", "0"],
              ["-6", "", "", "-3", "", "", "0", ""]]

fig = plt.figure(figsize=(W / 100, H / 100), dpi=100)


def px_axes(left, top, right, bottom):
    return fig.add_axes([left / W, 1 - bottom / H, (right - left) / W, (bottom - top) / H])


def av_panel(ax, pts, ids, fit, xlim, ylim, xt, xtl, yt, ytl, xlab, ylab, ypad):
    pts = np.array(pts)
    ax.set_xticks(xt)
    ax.set_xticklabels(xtl)
    ax.set_yticks(yt)
    ax.set_yticklabels(ytl, rotation=90, va='center')
    # limits after the ticks, set_ticks would widen them otherwise
    ax.set_xlim(xlim)
    ax.set_ylim(ylim)
    ax.grid(True, color='#d6d6d6', lw=1.2)
    ax.set_axisbelow(True)
    ax.plot(pts[:, 0], pts[:, 1], 'D', ms=3.4, mfc='none', mec='black', mew=0.95, zorder=3)
    xx = np.array(xlim)
    ax.plot(xx, fit[0] + fit[1] * xx, color='blue', lw=2.2, zorder=4)
    for lab, tx, ty in ids:
        ax.text(tx, ty, lab, ha='center', va='center', fontsize=9.5, color='#333333', zorder=5)
    for s in ax.spines.values():
        s.set_linewidth(1.1)
        s.set_color('black')
    ax.tick_params(direction='out', length=5, width=0.9, labelsize=9.5, pad=8)
    ax.set_xlabel(xlab, fontsize=9.5, labelpad=16)
    ax.set_ylabel(ylab, fontsize=9.5, labelpad=ypad)


rows = [(46, 118.5), (216, 289.3), (386, 459.3)]
m1_cols = [(69, 253.5), (352, 535.7)]
m2_cols = [(755, 940), (1038, 1221)]

m1_pts = [m1_age_pts, m1_educ_pts, m1_cohab_pts, m1_dens_pts, m1_unkn_pts, m1_pol_pts]
m1_ids = [m1_age_ids, m1_educ_ids, m1_cohab_ids, m1_dens_ids, m1_unkn_ids, m1_pol_ids]
m2_pts = [m2_age_pts, m2_educ_pts, m2_cohab_pts, m2_dens_pts, m2_unkn_pts, m2_pol_pts]
m2_ids = [m2_age_ids, m2_educ_ids, m2_cohab_ids, m2_dens_ids, m2_unkn_ids, m2_pol_ids]

for i in range(6):
    r, c = divmod(i, 2)
    ax = px_axes(m1_cols[c][0], rows[r][0], m1_cols[c][1], rows[r][1])
    av_panel(ax, m1_pts[i], m1_ids[i], m1_fits[i], m1_xlims[i], m1_ylims[i],
             m1_xticks[i], m1_xlabels[i], m1_yticks, m1_ylabels,
             x_names[i] + " | others", "certain2  | others", 8)
    ax = px_axes(m2_cols[c][0], rows[r][0], m2_cols[c][1], rows[r][1])
    av_panel(ax, m2_pts[i], m2_ids[i], m2_fits[i], m2_xlims[i], m2_ylims[i],
             m2_xticks[i], m2_xlabels[i], m2_yticks[i], m2_ylabels[i],
             x_names[i] + " | others", "certain1  | others", 19)

fig.text(286 / W, 1 - 19 / H, "Added-Variable Plots", ha='center', va='center', fontsize=17)
fig.text(975 / W, 1 - 19 / H, "Added-Variable Plots", ha='center', va='center', fontsize=16.5)
fig.text(287 / W, 1 - 576 / H, "(a) Added variable plot of model 1", ha='center', va='center',
         fontsize=16, family='cmr10')
fig.text(978 / W, 1 - 576 / H, "(b) Added variable plot of model 2", ha='center', va='center',
         fontsize=16, family='cmr10')

fig.savefig("out.png", dpi=100)
